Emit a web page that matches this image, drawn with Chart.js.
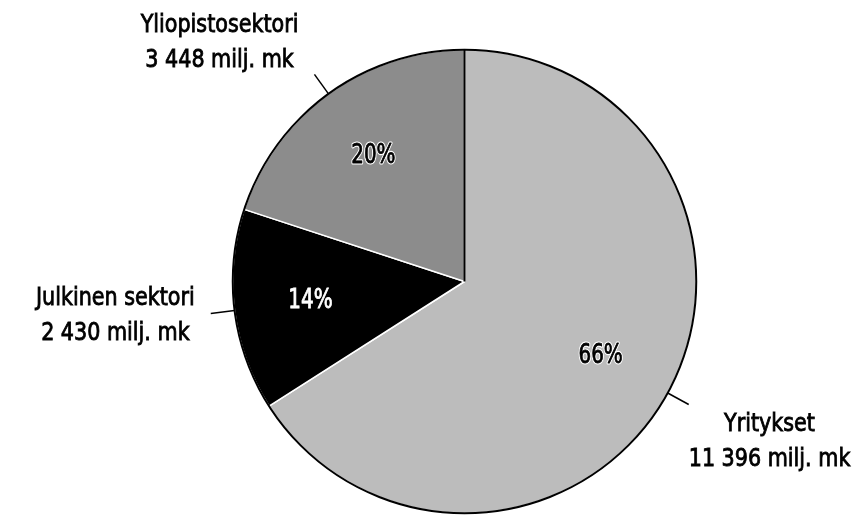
<!DOCTYPE html>
<html>
<head>
<meta charset="utf-8">
<script src="https://cdn.jsdelivr.net/npm/chart.js@4.4.0/dist/chart.umd.min.js"></script>
<style>
html, body { margin: 0; padding: 0; background: #fff; }
#wrap { width: 855px; height: 517px; position: relative; }
</style>
</head>
<body>
<div id="wrap"><canvas id="pie"></canvas></div>
<script>
// T&K-menot sektoreittain, milj. mk
var sectors = ['Yritykset', 'Julkinen sektori', 'Yliopistosektori'];
var amounts = [11396, 2430, 3448];
var amountLabels = ['11 396 milj. mk', '2 430 milj. mk', '3 448 milj. mk'];
var sliceColors = ['#bcbcbc', '#000000', '#8c8c8c'];
var pctColors = ['#000000', '#ffffff', '#000000'];

var labelFont = '25px "DejaVu Sans Condensed", "DejaVu Sans", sans-serif';
var pctFont = '27px "DejaVu Sans Condensed", "DejaVu Sans", sans-serif';
var squeeze = 0.92;   // the original uses a condensed face

//text squeezed horizontally, slightly emboldened with a thin stroke
function condensedText(ctx, txt, x, y, sx, color, halo) {
	ctx.save();
	ctx.translate(x, y);
	ctx.scale(sx, 1);
	if (halo) {
		ctx.lineWidth = 3;
		ctx.lineJoin = 'round';
		ctx.strokeStyle = halo;
		ctx.strokeText(txt, 0, 0);
	}
	ctx.fillStyle = color;
	ctx.strokeStyle = color;
	ctx.lineWidth = 0.8;
	ctx.fillText(txt, 0, 0);
	ctx.strokeText(txt, 0, 0);
	ctx.restore();
}

//draws outline, percentages, leader lines and the outside labels
var pieLabels = {
	id: 'pieLabels',
	afterDatasetsDraw: function(chart) {
		var ctx = chart.ctx;
		var meta = chart.getDatasetMeta(0);
		var total = amounts.reduce(function(a, b) { return a + b; }, 0);
		var first = meta.data[0];

		ctx.save();
		// black outline round the pie and the divider at the top
		ctx.strokeStyle = '#000';
		ctx.lineWidth = 2;
		ctx.beginPath();
		ctx.arc(first.x, first.y, first.outerRadius, 0, Math.PI * 2);
		ctx.stroke();
		ctx.beginPath();
		ctx.moveTo(first.x, first.y);
		ctx.lineTo(first.x + Math.cos(first.startAngle) * first.outerRadius,
			first.y + Math.sin(first.startAngle) * first.outerRadius);
		ctx.stroke();

		ctx.textAlign = 'center';
		ctx.textBaseline = 'middle';

		meta.data.forEach(function(arc, i) {
			var mid = (arc.startAngle + arc.endAngle) / 2;
			var dx = Math.cos(mid), dy = Math.sin(mid);
			var r = arc.outerRadius;

			// percentage inside the slice
			var pct = Math.round(amounts[i] * 100 / total) + '%';
			ctx.font = pctFont;
			condensedText(ctx, pct, arc.x + dx * r * 0.67, arc.y + dy * r * 0.67, 0.82,
				pctColors[i], pctColors[i] == '#ffffff' ? null : '#ffffff');

			// leader line
			var x1 = arc.x + dx * r, y1 = arc.y + dy * r;
			var x2 = arc.x + dx * (r + 24), y2 = arc.y + dy * (r + 24);
			ctx.strokeStyle = '#000';
			ctx.lineWidth = 1.5;
			ctx.beginPath();
			ctx.moveTo(x1, y1);
			ctx.lineTo(x2, y2);
			ctx.stroke();

			// two-line label next to the end of the leader
			ctx.font = labelFont;
			var w = squeeze * Math.max(ctx.measureText(sectors[i]).width, ctx.measureText(amountLabels[i]).width);
			var cx = dx > 0 ? x2 + w / 2 : x2 - 16 - w / 2;
			var y0;
			if (dy < -0.4) y0 = y2 - 49;
			else if (dy > 0.3) y0 = y2 + 20;
			else y0 = y2 - 15;
			condensedText(ctx, sectors[i], cx, y0, squeeze, '#000');
			condensedText(ctx, amountLabels[i], cx, y0 + 35, squeeze, '#000');
		});
		ctx.restore();
	}
};

var pie = new Chart(document.getElementById('pie').getContext('2d'), {
	type: 'pie',
	data: {
		labels: sectors,
		datasets: [{
			data: amounts,
			backgroundColor: sliceColors,
			borderColor: '#ffffff',
			borderWidth: 1.5
		}]
	},
	options: {
		responsive: true,
		maintainAspectRatio: false,
		animation: false,
		layout: {
			padding: { top: 49, bottom: 3, left: 229, right: 155 }
		},
		plugins: {
			legend: { display: false },
			tooltip: { enabled: false }
		}
	},
	plugins: [pieLabels]
});
</script>
</body>
</html>
